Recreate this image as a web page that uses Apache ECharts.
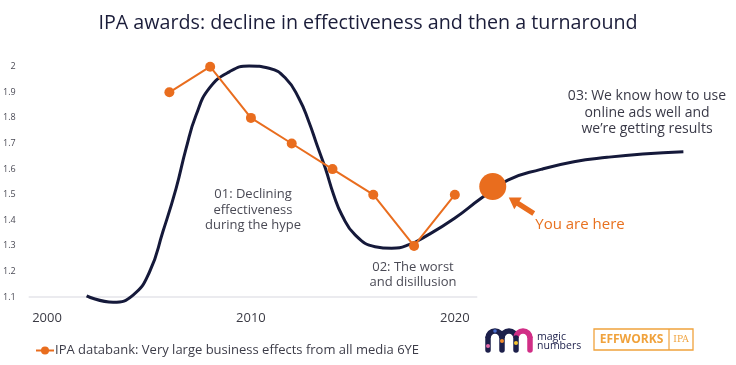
<!DOCTYPE html>
<html>
<head>
<meta charset="utf-8">
<script src="https://cdn.jsdelivr.net/npm/echarts@6/dist/echarts.min.js"></script>
<style>
html,body{margin:0;padding:0;background:#fff;}
#chart{width:736px;height:365px;}
</style>
</head>
<body>
<div id="chart"></div>
<script>
// ---- data ----
const ipaYears = [2006, 2008, 2010, 2012, 2014, 2016, 2018, 2020];
const ipaValues = [1.9, 2.0, 1.8, 1.7, 1.6, 1.5, 1.3, 1.5];

const curveYears = [2001.94, 2003.24, 2004.22, 2005.03, 2005.68, 2006.33, 2006.82, 2007.31, 2007.96, 2008.94, 2009.91,
  2010.89, 2011.70, 2012.35, 2012.84, 2013.24, 2013.65, 2014.06, 2014.46, 2015.11, 2016.09, 2016.90, 2017.72,
  2018.69, 2019.99, 2021.29, 2022.6, 2024.22, 2025.84, 2027.47, 2029.22, 2031.21];
const curveValues = [1.105, 1.080, 1.108, 1.199, 1.355, 1.525, 1.681, 1.811, 1.916, 1.980, 2.003,
  1.994, 1.955, 1.877, 1.785, 1.694, 1.603, 1.499, 1.421, 1.343, 1.297, 1.291, 1.304,
  1.343, 1.408, 1.486, 1.557, 1.599, 1.629, 1.646, 1.659, 1.668];

const youAreHere = [2021.86, 1.532];
const baselineYears = [1999.1, 2021.1];
const baselineValue = 1.1;

const xTickLabels = [2000, 2010, 2020];
const yTickLabels = [1.1, 1.2, 1.3, 1.4, 1.5, 1.6, 1.7, 1.8, 1.9, 2.0];

const legendName = 'IPA databank: Very large business effects from all media 6YE';
const titleText = 'IPA awards: decline in effectiveness and then a turnaround';
const note1 = '01: Declining\neffectiveness\nduring the hype';
const note2 = '02: The worst\nand disillusion';
const note3 = '03: We know how to use\nonline ads well and\nwe\u2019re getting results';
const hereText = 'You are here';

// ---- chart ----
const ORANGE = '#e96d1e';
const NAVY = '#15193a';
const FONT = '"Open Sans", sans-serif';

const chart = echarts.init(document.getElementById('chart'), null, {renderer: 'canvas'});

const option = {
  animation: false,
  backgroundColor: '#ffffff',
  textStyle: {fontFamily: FONT},
  title: {
    text: titleText,
    left: 'center',
    top: 8,
    textStyle: {fontFamily: FONT, fontSize: 19.7, fontWeight: 'normal', color: '#1b1d3a'}
  },
  legend: {
    data: [legendName],
    left: 30,
    top: 339,
    itemWidth: 18,
    itemHeight: 10,
    itemGap: 0,
    textStyle: {fontFamily: FONT, fontSize: 13, color: '#3c3c48', padding: [0,0,0,-4]}
  },
  grid: {left: 23, right: 36.5, top: 53.9, bottom: 55.1, containLabel: false},
  xAxis: {
    type: 'value', min: 1999, max: 2032,
    axisLine: {show: false}, axisTick: {show: false}, splitLine: {show: false},
    axisLabel: {customValues: xTickLabels, fontSize: 13, color: '#3a3a44', margin: 2, fontFamily: FONT,
      formatter: v => String(Math.round(v))}
  },
  yAxis: {
    type: 'value', min: 1.05, max: 2.05,
    axisLine: {show: false}, axisTick: {show: false}, splitLine: {show: false},
    axisLabel: {customValues: yTickLabels, fontSize: 9, color: '#4a4a55', margin: 11, fontFamily: FONT,
      formatter: v => String(Math.round(v * 10) / 10)}
  },
  series: [
    {
      name: 'baseline', type: 'line', silent: true, symbol: 'none',
      lineStyle: {color: '#e5e5ea', width: 1.5}, z: 1,
      data: baselineYears.map(y => [y, baselineValue])
    },
    {
      name: 'curve', type: 'line', smooth: 0.5, symbol: 'none',
      lineStyle: {color: NAVY, width: 3}, z: 2,
      data: curveYears.map((y, i) => [y, curveValues[i]])
    },
    {
      name: legendName, type: 'line', symbol: 'circle', symbolSize: 10,
      itemStyle: {color: ORANGE}, lineStyle: {color: ORANGE, width: 2}, z: 3,
      data: ipaYears.map((y, i) => [y, ipaValues[i]])
    },
    {
      name: 'here', type: 'scatter', symbolSize: 27, itemStyle: {color: ORANGE, opacity: 1}, z: 4,
      data: [youAreHere]
    }
  ]
};
chart.setOption(option);

// annotations
const dot = chart.convertToPixel({gridIndex: 0}, youAreHere);
const tip = [dot[0] + 16, dot[1] + 11];
const tail = [dot[0] + 41, dot[1] + 27];
const dx = tip[0] - tail[0], dy = tip[1] - tail[1];
const len = Math.hypot(dx, dy);
const ux = dx / len, uy = dy / len, px = -uy, py = ux;
const headLen = 11, headW = 7, shaftW = 2.6;
const hb = [tip[0] - ux * headLen, tip[1] - uy * headLen];
const arrowPts = [
  [tail[0] + px * shaftW, tail[1] + py * shaftW],
  [hb[0] + px * shaftW, hb[1] + py * shaftW],
  [hb[0] + px * headW, hb[1] + py * headW],
  tip,
  [hb[0] - px * headW, hb[1] - py * headW],
  [hb[0] - px * shaftW, hb[1] - py * shaftW],
  [tail[0] - px * shaftW, tail[1] - py * shaftW]
];

const noteStyle = (txt, size, color) => ({
  text: txt, fill: color, font: size + 'px ' + FONT, align: 'center', verticalAlign: 'middle', lineHeight: size + 2.5
});

const LOGO_NAVY = '#1c1f4a';
const LOGO_PINK = '#d12e86';
const arch = (cx, color) => ({type: 'arc', shape: {cx: cx, cy: 338, r: 7, startAngle: Math.PI, endAngle: 2 * Math.PI},
  style: {stroke: color, lineWidth: 5.5, fill: 'none'}});
const stem = (x, color) => ({type: 'line', shape: {x1: x, y1: 338, x2: x, y2: 350},
  style: {stroke: color, lineWidth: 5.5, lineCap: 'round'}});

chart.setOption({
  graphic: [
    {type: 'text', x: 253, y: 210, style: noteStyle(note1, 13, '#4a4a55')},
    {type: 'text', x: 413, y: 275, style: noteStyle(note2, 13, '#4a4a55')},
    {type: 'text', x: 647, y: 113, style: noteStyle(note3, 14, '#3a3a48')},
    {type: 'text', x: 580, y: 225, style: {text: hereText, fill: '#e8711f', font: '15px ' + FONT, align: 'center', verticalAlign: 'middle'}},
    {type: 'polygon', shape: {points: arrowPts}, style: {fill: ORANGE}},
    // magic numbers logo
    arch(495, LOGO_NAVY), arch(509, LOGO_NAVY), arch(523, LOGO_PINK),
    stem(488, LOGO_NAVY), stem(502, LOGO_NAVY), stem(516, LOGO_NAVY), stem(530, LOGO_PINK),
    {type: 'circle', shape: {cx: 488, cy: 346, r: 2}, style: {fill: '#e36aa8'}},
    {type: 'circle', shape: {cx: 502, cy: 341, r: 2}, style: {fill: '#f08a2a'}},
    {type: 'circle', shape: {cx: 516, cy: 343, r: 2}, style: {fill: '#f5c630'}},
    {type: 'circle', shape: {cx: 495, cy: 331, r: 1.8}, style: {fill: '#4a6fd0'}},
    {type: 'text', x: 537, y: 341.5, style: {text: 'magic\nnumbers', fill: LOGO_NAVY, font: '10.5px ' + FONT, lineHeight: 9.5, verticalAlign: 'middle'}},
    // EFFWORKS logo
    {type: 'rect', shape: {x: 594, y: 329, width: 99, height: 21}, style: {fill: 'none', stroke: '#f0a23c', lineWidth: 1.3}},
    {type: 'line', shape: {x1: 669, y1: 329, x2: 669, y2: 350}, style: {stroke: '#f0a23c', lineWidth: 1.2}},
    {type: 'text', x: 631.5, y: 340, style: {text: 'EFFWORKS', fill: '#f0a23c', font: 'bold 12px ' + FONT, align: 'center', verticalAlign: 'middle'}},
    {type: 'text', x: 681, y: 340, style: {text: 'IPA', fill: '#f0a23c', font: '9px "DejaVu Serif", serif', align: 'center', verticalAlign: 'middle'}}
  ]
});
</script>
</body>
</html>
